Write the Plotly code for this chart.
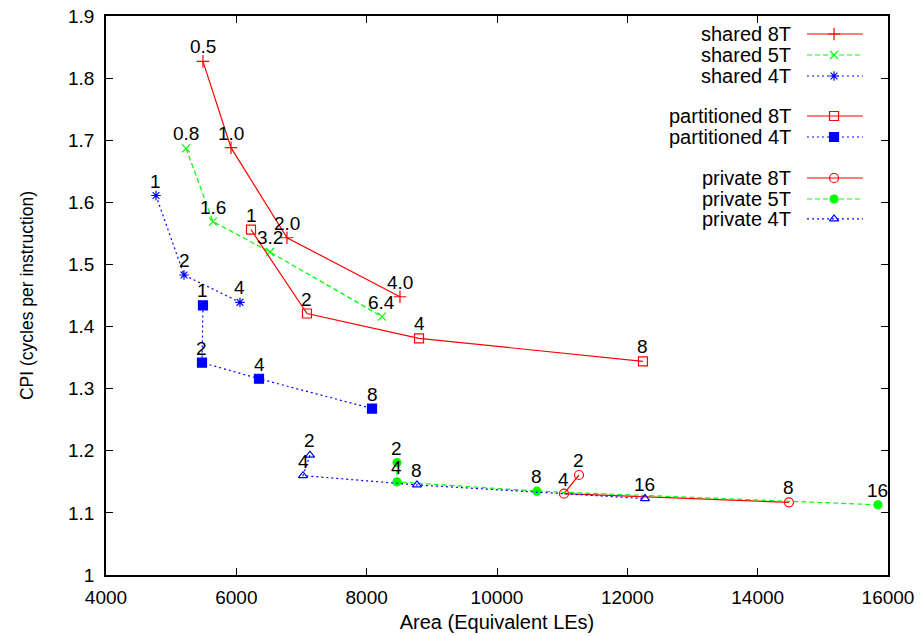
import plotly.graph_objects as go

# ---------------- data ----------------
shared8_x = [5488, 5918, 6777, 8511]
shared8_y = [1.827, 1.688, 1.543, 1.448]
shared8_lbl = ["0.5", "1.0", "2.0", "4.0"]

shared5_x = [5228, 5642, 6517, 8235]
shared5_y = [1.687, 1.569, 1.520, 1.416]
shared5_lbl = ["0.8", "1.6", "3.2", "6.4"]

shared4_x = [4767, 5197, 6056]
shared4_y = [1.611, 1.483, 1.439]
shared4_lbl = ["1", "2", "4"]

part8_x = [6225, 7084, 8803, 12240]
part8_y = [1.556, 1.421, 1.381, 1.344]
part8_lbl = ["1", "2", "4", "8"]

part4_x = [5488, 5473, 6348, 8082]
part4_y = [1.434, 1.342, 1.316, 1.268]
part4_lbl = ["1", "2", "4", "8"]

priv8_x = [11258, 11028, 14480]
priv8_y = [1.161, 1.131, 1.117]
priv8_lbl = ["2", "4", "8"]

priv5_x = [8465, 8465, 10613, 15846]
priv5_y = [1.181, 1.150, 1.135, 1.113]
priv5_lbl = ["2", "4", "8", "16"]

priv4_x = [7130, 7023, 8772, 12271]
priv4_y = [1.193, 1.160, 1.145, 1.123]
priv4_lbl = ["2", "4", "8", "16"]

series_names = ["shared 8T", "shared 5T", "shared 4T",
                "partitioned 8T", "partitioned 4T",
                "private 8T", "private 5T", "private 4T"]

x_ticks = [4000, 6000, 8000, 10000, 12000, 14000, 16000]
x_tick_text = ["4000", "6000", "8000", "10000", "12000", "14000", "16000"]
y_ticks = [1.0, 1.1, 1.2, 1.3, 1.4, 1.5, 1.6, 1.7, 1.8, 1.9]
y_tick_text = ["1", "1.1", "1.2", "1.3", "1.4", "1.5", "1.6", "1.7", "1.8", "1.9"]

# ---------------- styles ----------------
RED, GREEN, BLUE = "#ff0000", "#00ff00", "#0000ff"
FONT = "Liberation Sans, Arial, Helvetica, sans-serif"

styles = [
    dict(color=RED, dash="solid", symbol="cross-thin-open", size=9),
    dict(color=GREEN, dash="5px,3px", symbol="x-thin-open", size=8),
    dict(color=BLUE, dash="2px,3px", symbol="asterisk-open", size=8),
    dict(color=RED, dash="solid", symbol="square-open", size=9),
    dict(color=BLUE, dash="2px,3px", symbol="square", size=9),
    dict(color=RED, dash="solid", symbol="circle-open", size=9),
    dict(color=GREEN, dash="5px,3px", symbol="circle", size=8),
    dict(color=BLUE, dash="2px,3px", symbol="triangle-up-open", size=8),
]

series = [
    (shared8_x, shared8_y, shared8_lbl),
    (shared5_x, shared5_y, shared5_lbl),
    (shared4_x, shared4_y, shared4_lbl),
    (part8_x, part8_y, part8_lbl),
    (part4_x, part4_y, part4_lbl),
    (priv8_x, priv8_y, priv8_lbl),
    (priv5_x, priv5_y, priv5_lbl),
    (priv4_x, priv4_y, priv4_lbl),
]

fig = go.Figure()
annotations = []


def marker_for(st):
    return dict(symbol=st["symbol"], size=st["size"], color=st["color"],
                line=dict(color=st["color"], width=1.2))


for (xs, ys, lbl), st in zip(series, styles):
    fig.add_trace(go.Scatter(
        x=xs, y=ys, mode="lines+markers",
        line=dict(color=st["color"], width=1.2, dash=st["dash"]),
        marker=marker_for(st), showlegend=False, cliponaxis=False,
    ))
    # point labels just above each point (gnuplot style)
    for xv, yv, t in zip(xs, ys, lbl):
        annotations.append(dict(
            x=xv, y=yv, xref="x", yref="y", text=t, showarrow=False,
            xanchor="center", yanchor="bottom", yshift=3, borderpad=0,
            font=dict(family=FONT, size=19, color="black")))

# ---------------- custom gnuplot-style key (plot-area fractions) ----------------
key_rows = [0.9678, 0.9302, 0.8927, 0.8211, 0.7835, 0.7102, 0.6726, 0.6369]
key_line_x = [0.8964, 0.968]
key_mark_x = 0.931
key_text_x = 0.8785

for name, st, yy in zip(series_names, styles, key_rows):
    fig.add_trace(go.Scatter(
        x=key_line_x, y=[yy, yy], mode="lines", xaxis="x2", yaxis="y2",
        line=dict(color=st["color"], width=1.2, dash=st["dash"]),
        showlegend=False, hoverinfo="skip"))
    fig.add_trace(go.Scatter(
        x=[key_mark_x], y=[yy], mode="markers", xaxis="x2", yaxis="y2",
        marker=marker_for(st), showlegend=False, hoverinfo="skip"))
    annotations.append(dict(
        x=key_text_x, y=yy, xref="x2", yref="y2", text=name, showarrow=False,
        xanchor="right", yanchor="middle",
        font=dict(family=FONT, size=20, color="black")))

fig.update_layout(
    width=922, height=636,
    margin=dict(l=106, r=34, t=16, b=61, autoexpand=False),
    paper_bgcolor="white", plot_bgcolor="white",
    font=dict(family=FONT, color="black"),
    annotations=annotations,
    xaxis=dict(
        range=[4000, 16000], tickvals=x_ticks, ticktext=x_tick_text,
        ticks="inside", ticklen=7, tickcolor="black", tickwidth=1,
        showline=True, linecolor="black", linewidth=1.5, mirror="ticks",
        showgrid=False, zeroline=False, automargin=False,
        tickfont=dict(family=FONT, size=19, color="black"),
        ticklabelstandoff=4,
        title=dict(text="Area (Equivalent LEs)", standoff=8,
                   font=dict(family=FONT, size=20, color="black")),
    ),
    yaxis=dict(
        range=[1.0, 1.9], tickvals=y_ticks, ticktext=y_tick_text,
        ticks="inside", ticklen=7, tickcolor="black", tickwidth=1,
        showline=True, linecolor="black", linewidth=1.5, mirror="ticks",
        showgrid=False, zeroline=False, automargin=False,
        tickfont=dict(family=FONT, size=19, color="black"),
        ticklabelstandoff=6,
        title=dict(text="CPI (cycles per instruction)", standoff=30,
                   font=dict(family=FONT, size=17.5, color="black")),
    ),
    xaxis2=dict(overlaying="x", range=[0, 1], visible=False),
    yaxis2=dict(overlaying="y", range=[0, 1], visible=False),
)

fig.write_html("out.html")
